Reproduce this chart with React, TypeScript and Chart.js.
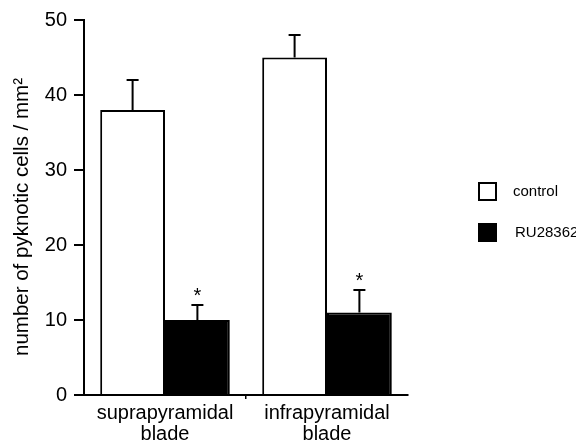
import React, { useEffect, useRef } from "react";
import { Chart, registerables } from "chart.js";

Chart.register(...registerables);

const categories: string[][] = [["suprapyramidal", "blade"], ["infrapyramidal", "blade"]];
const seriesNames = ["control", "RU28362"];
const controlValues = [38, 45];
const controlErrors = [4, 3];
const ruValues = [10, 11];
const ruErrors = [2, 3];
const ruSignificant = [true, true];
const yTicks = [0, 10, 20, 30, 40, 50];
const yTitle = "number of pyknotic cells / mm\u00B2";

const FONT = "'Liberation Sans', Arial, Helvetica, sans-serif";

const errorBarPlugin = {
  id: "errorBars",
  afterDatasetsDraw(chart: any) {
    const ctx = chart.ctx;
    const yScale = chart.scales.y;
    chart.data.datasets.forEach((ds: any, di: number) => {
      const meta = chart.getDatasetMeta(di);
      meta.data.forEach((el: any, i: number) => {
        const v = ds.data[i];
        const e = ds.errors[i];
        const yTop = yScale.getPixelForValue(v);
        const yErr = yScale.getPixelForValue(v + e);
        const x = el.x;
        ctx.save();
        ctx.strokeStyle = "#000";
        ctx.lineWidth = 2;
        ctx.beginPath();
        ctx.moveTo(x, yTop);
        ctx.lineTo(x, yErr);
        ctx.moveTo(x - 6, yErr);
        ctx.lineTo(x + 6, yErr);
        ctx.stroke();
        if (ds.significant && ds.significant[i]) {
          ctx.fillStyle = "#000";
          ctx.font = `20px ${FONT}`;
          ctx.textAlign = "center";
          ctx.textBaseline = "alphabetic";
          const m = ctx.measureText("*");
          const cy = yErr - 13;
          const by = cy + (m.actualBoundingBoxAscent - m.actualBoundingBoxDescent) / 2;
          ctx.fillText("*", x, by);
        }
        ctx.restore();
      });
    });
  },
};

const titleLegendPlugin = {
  id: "titleLegend",
  afterDraw(chart: any) {
    const ctx = chart.ctx;
    ctx.save();
    ctx.fillStyle = "#000";
    ctx.font = `20.5px ${FONT}`;
    ctx.textAlign = "center";
    ctx.textBaseline = "middle";
    ctx.translate(22, 217);
    ctx.rotate(-Math.PI / 2);
    ctx.fillText(yTitle, 0, 0);
    ctx.restore();

    ctx.save();
    const boxX = 478;
    const boxYs = [182, 223];
    chart.data.datasets.forEach((ds: any, i: number) => {
      const y = boxYs[i];
      ctx.fillStyle = ds.backgroundColor;
      ctx.fillRect(boxX, y, 19, 19);
      ctx.strokeStyle = "#000";
      ctx.lineWidth = 2;
      ctx.strokeRect(boxX + 1, y + 1, 17, 17);
      ctx.fillStyle = "#000";
      ctx.font = `15px ${FONT}`;
      ctx.textAlign = "left";
      ctx.textBaseline = "middle";
      ctx.fillText(ds.label, i === 0 ? 513 : 515, y + 10);
    });
    ctx.restore();
  },
};

export default function App() {
  const ref = useRef<HTMLCanvasElement | null>(null);
  useEffect(() => {
    if (!ref.current) return;
    const chart = new Chart(ref.current, {
      type: "bar",
      data: {
        labels: categories,
        datasets: [
          {
            label: seriesNames[0],
            data: controlValues,
            errors: controlErrors,
            backgroundColor: "#ffffff",
            borderColor: "#000000",
            borderWidth: 2,
            borderSkipped: "bottom",
            categoryPercentage: 0.8,
            barPercentage: 1.0,
          } as any,
          {
            label: seriesNames[1],
            data: ruValues,
            errors: ruErrors,
            significant: ruSignificant,
            backgroundColor: "#000000",
            borderColor: "#000000",
            borderWidth: 2,
            borderSkipped: "bottom",
            categoryPercentage: 0.8,
            barPercentage: 1.0,
          } as any,
        ],
      },
      options: {
        animation: false,
        responsive: false,
        devicePixelRatio: 1,
        layout: { padding: { left: 0, top: 20, right: 168, bottom: 0 } },
        plugins: { legend: { display: false }, tooltip: { enabled: false } },
        scales: {
          x: {
            offset: true,
            grid: {
              offset: true,
              drawOnChartArea: false,
              drawTicks: true,
              tickLength: 4,
              lineWidth: 1.5,
              color: (c: any) => (c.index === 1 ? "#000" : "rgba(0,0,0,0)"),
            },
            border: { display: true, color: "#000", width: 2 },
            ticks: {
              color: "#000",
              padding: 4,
              font: { family: FONT, size: 20, lineHeight: 1.05 },
            },
            afterFit: (s: any) => {
              s.height = 50;
            },
          },
          y: {
            min: 0,
            max: 50,
            afterBuildTicks: (s: any) => {
              s.ticks = yTicks.map((v) => ({ value: v }));
            },
            grid: {
              drawOnChartArea: false,
              drawTicks: true,
              tickLength: 10,
              lineWidth: 2,
              color: "#000",
            },
            border: { display: true, color: "#000", width: 2 },
            ticks: {
              color: "#000",
              padding: 7,
              font: { family: FONT, size: 20 },
            },
            afterFit: (s: any) => {
              s.width = 84;
            },
          },
        },
      },
      plugins: [errorBarPlugin, titleLegendPlugin],
    } as any);
    return () => chart.destroy();
  }, []);
  return (
    <div style={{ position: "absolute", left: 0, top: 0, width: 576, height: 445, background: "#fff" }}>
      <canvas ref={ref} width={576} height={445} style={{ display: "block", width: 576, height: 445 }} />
    </div>
  );
}
